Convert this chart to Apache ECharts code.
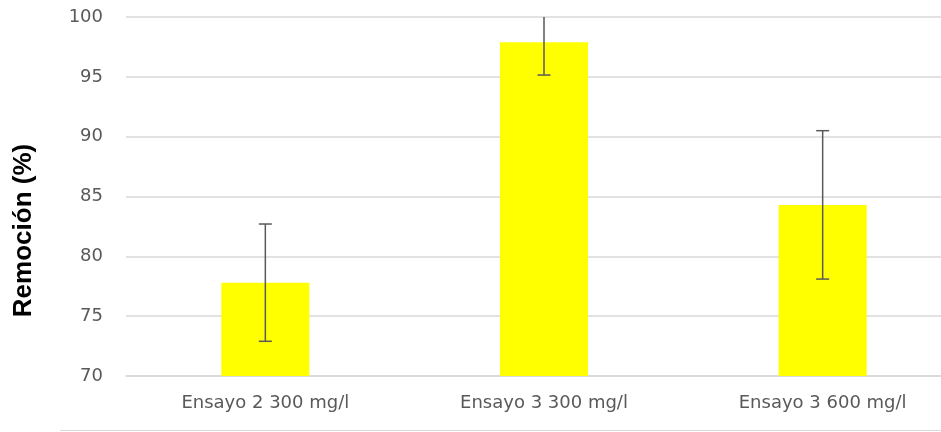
<!DOCTYPE html>
<html><head><meta charset="utf-8">
<script src="https://cdn.jsdelivr.net/npm/echarts@6/dist/echarts.min.js"></script>
<style>html,body{margin:0;padding:0;background:#fff;overflow:hidden}#c{width:962px;height:432px}</style>
</head><body><div id="c"></div>
<script>
var categories = ['Ensayo 2 300 mg/l', 'Ensayo 3 300 mg/l', 'Ensayo 3 600 mg/l'];
var values = [77.8, 97.9, 84.3];
var errors = [4.9, 2.75, 6.2];
var yTicks = [70, 75, 80, 85, 90, 95, 100];

var chart = echarts.init(document.getElementById('c'));
var errData = values.map(function (v, i) { return [i, v - errors[i], v + errors[i]]; });
chart.setOption({
  animation: false,
  grid: { left: 126, right: 0, top: 17, bottom: 56 },
  xAxis: {
    type: 'category', data: categories,
    axisLine: { lineStyle: { color: '#d9d9d9', width: 1.5 } },
    axisTick: { show: false },
    axisLabel: { color: '#595959', fontSize: 18, fontFamily: 'DejaVu Sans, sans-serif', margin: 18 }
  },
  yAxis: {
    type: 'value', min: yTicks[0], max: yTicks[yTicks.length - 1], interval: 5,
    name: 'Remoción (%)', nameLocation: 'middle', nameGap: 89,
    nameTextStyle: { fontSize: 26, fontWeight: 'bold', color: '#000', fontFamily: 'Liberation Sans, sans-serif', padding: [0, 68, 0, 0] },
    axisLine: { show: false }, axisTick: { show: false },
    splitLine: { lineStyle: { color: '#d9d9d9', width: 1.5 } },
    axisLabel: { color: '#595959', fontSize: 18, fontFamily: 'DejaVu Sans, sans-serif', margin: 23 }
  },
  series: [
    { type: 'bar', data: values, barWidth: '31.6%', itemStyle: { color: '#ffff00' } },
    {
      type: 'custom', data: errData, clip: true, z: 10,
      renderItem: function (params, api) {
        var x = api.value(0);
        var lo = api.coord([x, api.value(1)]);
        var hi = api.coord([x, api.value(2)]);
        var hw = 6.5;
        var style = { stroke: '#595959', lineWidth: 1.5 };
        return {
          type: 'group',
          children: [
            { type: 'line', shape: { x1: lo[0], y1: lo[1], x2: hi[0], y2: hi[1] }, style: style },
            { type: 'line', shape: { x1: lo[0] - hw, y1: lo[1], x2: lo[0] + hw, y2: lo[1] }, style: style },
            { type: 'line', shape: { x1: hi[0] - hw, y1: hi[1], x2: hi[0] + hw, y2: hi[1] }, style: style }
          ]
        };
      }
    }
  ],
  graphic: [
    { type: 'line', shape: { x1: 60, y1: 430.5, x2: 962, y2: 430.5 }, style: { stroke: '#d9d9d9', lineWidth: 1 } }
  ]
});
</script></body></html>
